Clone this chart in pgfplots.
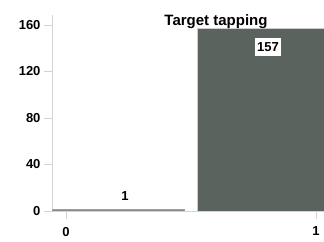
\documentclass[border=0pt]{standalone}
\usepackage{fontspec}
\setmainfont{Liberation Sans}
\usepackage{pgfplots}
\pgfplotsset{compat=1.18}
\definecolor{barc}{HTML}{5A635D}
\definecolor{axc}{HTML}{D4D4D4}
\begin{document}
\begin{tikzpicture}
\begin{axis}[
  scale only axis, width=272pt, height=196pt,
  xmin=-0.056, xmax=1.032, ymin=0, ymax=168.6,
  axis lines*=left,
  axis line style={axc, line width=0.8pt},
  xtick={0,1}, ytick={0,40,80,120,160},
  tick align=outside,
  major tick length=8pt,
  xtick style={axc, line width=0.8pt},
  ytick style={axc, line width=0.8pt},
  tick label style={font=\bfseries\fontsize{13}{13}\selectfont, black},
  xticklabel style={yshift=-4.5pt},
  /pgf/number format/assume math mode=true,
  clip=true,
]
\addplot[fill=barc!75, draw=barc!60, line width=0.4pt] coordinates {(-0.056,0) (-0.056,1.2) (0.472,1.2) (0.472,0)} -- cycle;
\addplot[fill=barc, draw=gray!40] coordinates {(0.524,0) (0.524,157) (1.2,157) (1.2,0)} -- cycle;
\node[font=\bfseries\fontsize{13}{13}\selectfont] at (axis cs:0.236,13) {1};
\node[font=\bfseries\fontsize{13}{13}\selectfont, fill=white, inner xsep=2.5pt, inner ysep=4.5pt] at (axis cs:0.808,140.9) {157};
\node[font=\bfseries\fontsize{15}{15}\selectfont, anchor=base] at (axis cs:0.6,159.4) {Target tapping};
\end{axis}
\pgfresetboundingbox
\path[use as bounding box] ([shift={(-52pt,-31pt)}]current axis.south west) rectangle ([shift={(0pt,15pt)}]current axis.north east);
\end{tikzpicture}
\end{document}
